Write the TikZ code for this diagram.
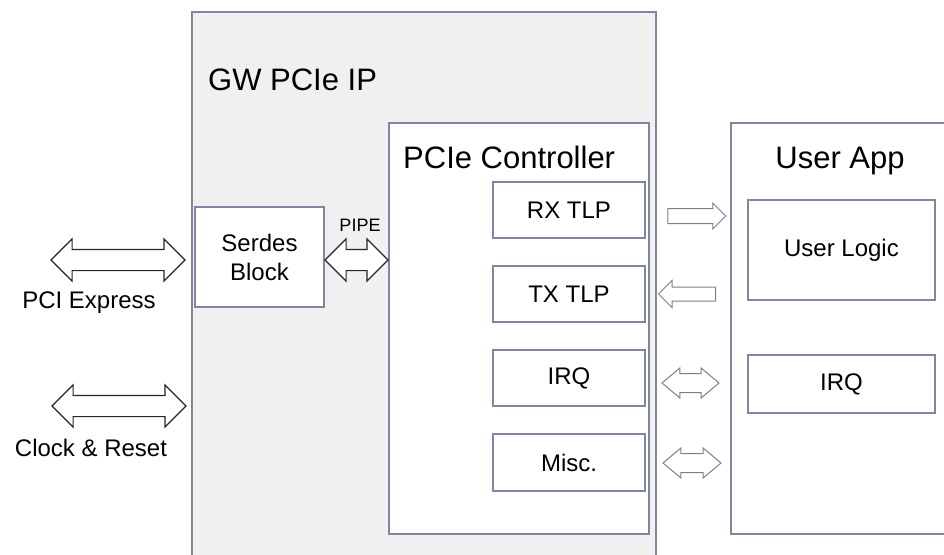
\documentclass[tikz,border=0pt]{standalone}
\usepackage{fontspec}
\setmainfont{Liberation Sans}
\usetikzlibrary{shapes.arrows, positioning}
\definecolor{boxline}{RGB}{128,134,160}
\definecolor{ipfill}{RGB}{240,240,240}
\definecolor{lanegray}{RGB}{128,128,128}
\tikzset{every blk node/.style={draw=boxline,line width=1.2pt,fill=white,inner sep=0pt,outer sep=0pt,align=center,font=\fontsize{24}{29}\selectfont}}
\tikzset{blk/.style={rectangle,every blk node}}
\tikzset{big title/.style={inner sep=0pt,font=\fontsize{31}{36}\selectfont}}
\tikzset{port label/.style={inner sep=0pt,font=\fontsize{24}{29}\selectfont}}
\tikzset{bus/.style={double arrow,draw=black!85,line width=1.1pt,fill=white,inner xsep=0pt,inner ysep=10pt,double arrow head extend=10.5pt,minimum width=0pt}}
\tikzset{lane/.style={draw=lanegray,line width=1pt,fill=white,inner xsep=0pt,minimum width=0pt}}

\begin{document}
\begin{tikzpicture}[x=1pt,y=-1pt]
    \clip (0,0) rectangle (944,554);

    % GW PCIe IP
    \node[blk, fill=ipfill, anchor=north west, minimum width=464pt, minimum height=548pt] (ip) at (192,12) {};
    \node[big title, anchor=base west] (iptitle) at (208,90) {GW PCIe IP};
    \node[blk, minimum width=129pt, minimum height=100pt] (serdes) at (259.5,257) {Serdes\\Block};

    % controller and its blocks
    \node[blk, anchor=north west, minimum width=260pt, minimum height=411pt] (ctrl) at (389,123) {};
    \node[big title, anchor=base west] (ctrltitle) at (403,168) {PCIe Controller};
    \node[blk, minimum width=152pt, minimum height=56pt] (rx) at (569,210) {RX TLP};
    \node[blk, minimum width=152pt, minimum height=56pt, below=28pt of rx] (tx) {TX TLP};
    \node[blk, minimum width=152pt, minimum height=56pt, below=28pt of tx] (irq) {IRQ};
    \node[blk, minimum width=152pt, minimum height=57pt, below=28pt of irq] (misc) {Misc.};

    % user side
    \node[blk, anchor=north west, minimum width=230pt, minimum height=411pt] (app) at (731,123) {};
    \node[big title, anchor=base] (apptitle) at (840,168) {User App};
    \node[blk, minimum width=187pt, minimum height=100pt] (logic) at (841.5,250) {User Logic};
    \node[blk, minimum width=187pt, minimum height=58pt] (appirq) at (841.5,384) {IRQ};

    % external ports
    \node[bus, minimum height=134pt] (pcie) at (118,260) {};
    \node[port label] (pcielbl) at (89,303) {PCI Express};
    \node[bus, minimum height=134pt] (clk) at (119,406) {};
    \node[port label] (clklbl) at (91,448) {Clock \& Reset};

    % PIPE
    \node[bus, minimum height=63pt] (pipe) at (356.5,260) {};
    \node[inner sep=0pt, font=\fontsize{18}{22}\selectfont] (pipelbl) at (360,225) {PIPE};

    % controller <-> user app
    \node[lane, single arrow, inner ysep=7pt, single arrow head extend=5.5pt, minimum height=58pt] (rxlane) at (693,216) {};
    \node[lane, single arrow, shape border rotate=180, inner ysep=6.5pt, single arrow head extend=6.5pt, minimum height=57pt] (txlane) at (690.5,294) {};
    \node[lane, double arrow, double arrow tip angle=80, inner ysep=9pt, double arrow head extend=5.5pt, minimum height=57pt] (irqlane) at (690.5,383) {};
    \node[lane, double arrow, double arrow tip angle=80, inner ysep=9pt, double arrow head extend=5.5pt, minimum height=58pt] (misclane) at (692,463) {};
\end{tikzpicture}
\end{document}
